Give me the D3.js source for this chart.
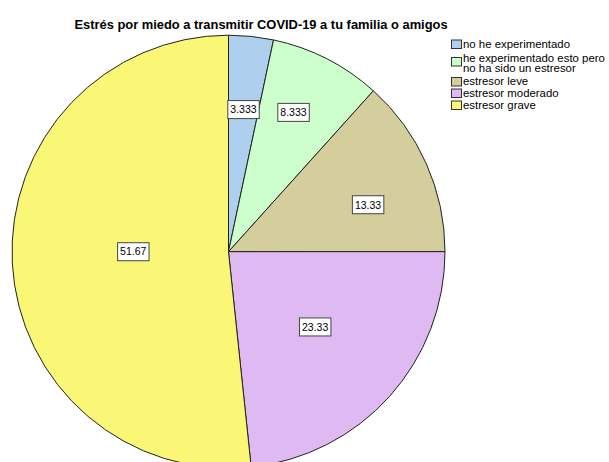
<!DOCTYPE html>
<html>
<head>
<meta charset="utf-8">
<script src="https://cdn.jsdelivr.net/npm/d3@7"></script>
<style>
  body { margin: 0; background: #fff; }
  svg { display: block; font-family: "Liberation Sans", Arial, sans-serif; }
</style>
</head>
<body>
<svg id="chart" width="609" height="462"></svg>
<script>
const title = 'Estrés por miedo a transmitir COVID-19 a tu familia o amigos';
const categories = [
  ['no he experimentado'],
  ['he experimentado esto pero', 'no ha sido un estresor'],
  ['estresor leve'],
  ['estresor moderado'],
  ['estresor grave']
];
const percents = [3.333, 8.333, 13.33, 23.33, 51.67];
const valueLabels = ['3.333', '8.333', '13.33', '23.33', '51.67'];
const fills = ['#afcfee', '#ccffcc', '#d3ce9b', '#dfbaf2', '#f9f775'];

// layout: label distance (share of radius) and angle nudge in degrees
const labelPos = [[0.66, 0], [0.71, -2], [0.68, 5.4], [0.53, -1], [0.44, 3]];

var svg = d3.select('#chart');
var cx = 228.5, cy = 251.7, radius = 216.5;

svg.append('text')
    .attr('x', 261)
    .attr('y', 28.5)
    .attr('text-anchor', 'middle')
    .style('font-size', '12.9px')
    .style('font-weight', 'bold')
    .style('fill', '#000')
    .text(title);

var pie = d3.pie().sort(null).value(function (d) { return d; });
var arcs = pie(percents);
var arc = d3.arc().innerRadius(0).outerRadius(radius);

var g = svg.append('g').attr('transform', 'translate(' + cx + ',' + cy + ')');

g.selectAll('path')
    .data(arcs)
    .enter()
    .append('path')
    .attr('d', arc)
    .attr('fill', function (d, i) { return fills[i]; })
    .attr('stroke', '#222')
    .attr('stroke-width', 1);

function labelXY(d, i) {
    var r = labelPos[i][0] * radius;
    var mid = (d.startAngle + d.endAngle) / 2 + labelPos[i][1] * Math.PI / 180;
    return [r * Math.sin(mid), -r * Math.cos(mid)];
}

var labels = g.selectAll('g.lab')
    .data(arcs)
    .enter()
    .append('g')
    .attr('class', 'lab')
    .attr('transform', function (d, i) { return 'translate(' + labelXY(d, i) + ')'; });

labels.append('rect');
labels.append('text')
    .attr('text-anchor', 'middle')
    .attr('dy', '0.36em')
    .style('font-size', '10.5px')
    .style('fill', '#000')
    .text(function (d, i) { return valueLabels[i]; });

labels.each(function () {
    var l = d3.select(this);
    var bb = l.select('text').node().getBBox();
    l.select('rect')
        .attr('x', bb.x - 2.5)
        .attr('y', -9)
        .attr('width', bb.width + 5)
        .attr('height', 18)
        .attr('fill', '#fff')
        .attr('stroke', '#444')
        .attr('stroke-width', 1);
});

// legend
var ly = [39.5, 57, 77, 88.5, 100.5];
var legend = svg.selectAll('g.legend')
    .data(categories)
    .enter()
    .append('g')
    .attr('class', 'legend')
    .attr('transform', function (d, i) { return 'translate(451,' + ly[i] + ')'; });

legend.append('rect')
    .attr('x', 0.5)
    .attr('y', 0.5)
    .attr('width', 10)
    .attr('height', 8.5)
    .attr('fill', function (d, i) { return fills[i]; })
    .attr('stroke', '#333')
    .attr('stroke-width', 1);

legend.each(function (d) {
    var t = d3.select(this).append('text')
        .style('font-size', '11.4px')
        .style('fill', '#000');
    d.forEach(function (line, j) {
        t.append('tspan')
            .attr('x', 12)
            .attr('y', (d.length > 1 ? 4.5 : 8) + j * 10)
            .text(line);
    });
});
</script>
</body>
</html>
